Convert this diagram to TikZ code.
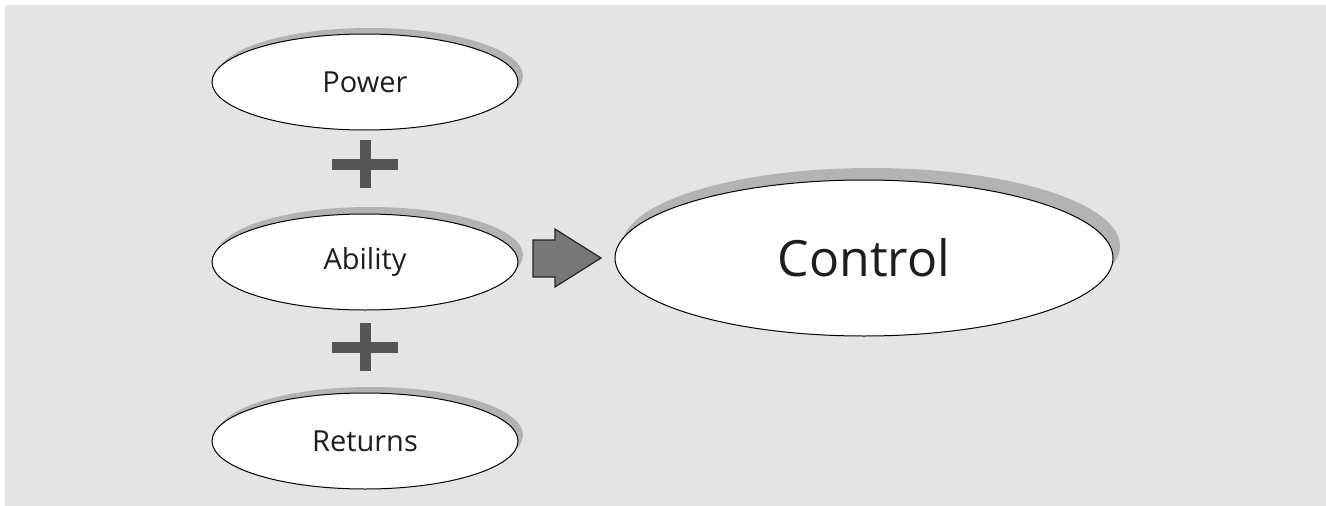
\documentclass[tikz,border=0pt]{standalone}
\usepackage{fontspec}
\setmainfont{Open Sans}
\usetikzlibrary{shapes.geometric}
\definecolor{bggray}{HTML}{E4E4E4}
\definecolor{shadowgray}{HTML}{B3B3B3}
\definecolor{plusgray}{HTML}{555555}
\definecolor{arrowgray}{HTML}{777777}
\definecolor{textcol}{HTML}{1E1E1E}
\begin{document}
\begin{tikzpicture}[x=1pt,y=-1pt,
  oval/.style={ellipse, draw=black, line width=1pt, fill=white, inner sep=0pt, text=textcol},
  smalloval/.style={oval, minimum width=306pt, minimum height=96pt, font=\fontsize{29}{32}\selectfont},
  bigoval/.style={oval, minimum width=498pt, minimum height=156pt, font=\fontsize{50}{54}\selectfont},
  ovalshadow/.style={ellipse, fill=shadowgray, draw=none, inner sep=0pt},
  plusbar/.style={draw=plusgray, line width=11pt},
  blockarrow/.style={fill=arrowgray, draw=black!85, line width=1.2pt, line join=miter}]
\useasboundingbox (0,0) rectangle (1326,506);
\fill[bggray] (5,5) rectangle (1326,506);

% shadows behind the ovals
\node[ovalshadow, minimum width=306pt, minimum height=96pt] (powershadow) at (370,76) {};
\node[ovalshadow, minimum width=306pt, minimum height=96pt] (abilityshadow) at (370,255) {};
\node[ovalshadow, minimum width=306pt, minimum height=96pt] (returnsshadow) at (370,435) {};
\node[ovalshadow, minimum width=498pt, minimum height=156pt] (controlshadow) at (871,246) {};

% ovals
\node[smalloval] (power) at (365,82) {Power};
\node[smalloval] (ability) at (365,262) {Ability};
\node[smalloval] (returns) at (365,441) {Returns};
\node[bigoval] (control) at (864,258) {Control};

% plus signs
\draw[plusbar] (332,164) -- (398,164);
\draw[plusbar] (365,140) -- (365,188);
\draw[plusbar] (332,347) -- (398,347);
\draw[plusbar] (365,323) -- (365,371);

% block arrow from Ability to Control
\draw[blockarrow] (533,240) -- (555,240) -- (555,229) -- (601,258) -- (555,287) -- (555,277) -- (533,277) -- cycle;
\end{tikzpicture}
\end{document}
